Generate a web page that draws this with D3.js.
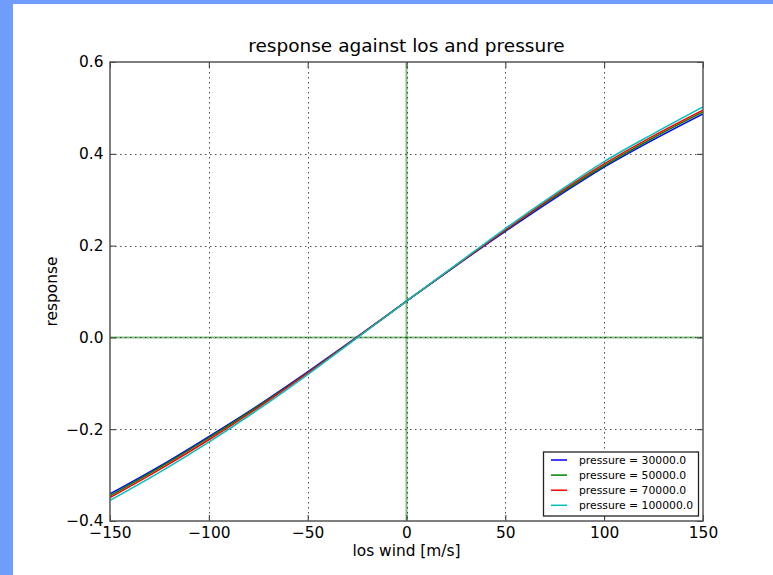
<!DOCTYPE html>
<html>
<head>
<meta charset="utf-8">
<script src="https://cdn.jsdelivr.net/npm/d3@7"></script>
<style>
  html, body { margin: 0; padding: 0; background: #fff; }
  svg { display: block; font-family: "DejaVu Sans", sans-serif; }
</style>
</head>
<body>
<svg id="chart" width="773" height="575"></svg>
<script>
// Line-of-sight wind samples (m/s)
const losWind = [-150, -125, -100, -75, -50, -25, 0, 25, 50, 75, 100, 125, 150];

// Pressure levels (Pa), one curve each
const pressures = [30000, 50000, 70000, 100000];
const seriesColors = ["#0000ff", "#008000", "#ff0000", "#00bfbf"];

// Response values per pressure level, sampled at losWind
const resp30000  = [-0.341, -0.281, -0.216, -0.148, -0.075, 0.001, 0.079, 0.156, 0.231, 0.303, 0.371, 0.431, 0.487];
const resp50000  = [-0.345, -0.284, -0.219, -0.150, -0.077, 0.000, 0.079, 0.157, 0.233, 0.306, 0.374, 0.435, 0.491];
const resp70000  = [-0.349, -0.288, -0.223, -0.153, -0.078, 0.000, 0.079, 0.157, 0.234, 0.309, 0.378, 0.439, 0.495];
const resp100000 = [-0.355, -0.294, -0.228, -0.157, -0.081, -0.001, 0.079, 0.158, 0.237, 0.312, 0.383, 0.444, 0.502];
const responses = [resp30000, resp50000, resp70000, resp100000];

// Axis ticks
const xTicks = [-150, -100, -50, 0, 50, 100, 150];
const yTicks = [-0.4, -0.2, 0.0, 0.2, 0.4, 0.6];

const titleText = "response against los and pressure";
const xLabelText = "los wind [m/s]";
const yLabelText = "response";

const W = 773, H = 575;
const plot = { left: 110, right: 703, top: 62, bottom: 521 };

const svg = d3.select("#chart");

// page background and the blue frame strips
svg.append("rect").attr("width", W).attr("height", H).attr("fill", "#ffffff");
svg.append("rect").attr("x", 0).attr("y", 0).attr("width", 13).attr("height", H).attr("fill", "#6f9cfd");
svg.append("rect").attr("x", 0).attr("y", 0).attr("width", W).attr("height", 4).attr("fill", "#6f9cfd");

const x = d3.scaleLinear().domain([-150, 150]).range([plot.left, plot.right]);
const y = d3.scaleLinear().domain([-0.4, 0.6]).range([plot.bottom, plot.top]);

svg.append("defs").append("clipPath").attr("id", "plotClip")
  .append("rect")
  .attr("x", plot.left).attr("y", plot.top)
  .attr("width", plot.right - plot.left).attr("height", plot.bottom - plot.top);

// zero reference lines
const zeroG = svg.append("g").attr("stroke", "#008000").attr("stroke-opacity", 0.5).attr("stroke-width", 2);
zeroG.append("line").attr("x1", x(0)).attr("x2", x(0)).attr("y1", plot.top).attr("y2", plot.bottom);
zeroG.append("line").attr("x1", plot.left).attr("x2", plot.right).attr("y1", y(0)).attr("y2", y(0));

// dotted grid
const grid = svg.append("g").attr("stroke", "#222").attr("stroke-width", 1)
  .attr("stroke-dasharray", "1.5,3.5").attr("opacity", 0.8);
grid.selectAll("line.v").data(xTicks.filter(t => t > -150 && t < 150)).join("line")
  .attr("class", "v")
  .attr("x1", d => Math.round(x(d)) + 0.5).attr("x2", d => Math.round(x(d)) + 0.5)
  .attr("y1", plot.top).attr("y2", plot.bottom);
grid.selectAll("line.h").data(yTicks.filter(t => t > -0.4 && t < 0.6)).join("line")
  .attr("class", "h")
  .attr("x1", plot.left).attr("x2", plot.right)
  .attr("y1", d => Math.round(y(d)) + 0.5).attr("y2", d => Math.round(y(d)) + 0.5);

// response curves
const line = d3.line()
  .x((d, i) => x(losWind[i]))
  .y(d => y(d))
  .curve(d3.curveMonotoneX);

svg.append("g").attr("clip-path", "url(#plotClip)")
  .selectAll("path").data(responses).join("path")
  .attr("d", d => line(d))
  .attr("fill", "none")
  .attr("stroke", (d, i) => seriesColors[i])
  .attr("stroke-width", 1.5);

// axes with inward ticks on all four sides
const fmtX = d3.format("d");
const fmtY = d3.format(".1f");
const tickLen = 6;

function styleAxis(g) {
  g.select(".domain").remove();
  g.selectAll(".tick line").attr("stroke", "#333").attr("stroke-width", 1);
  g.selectAll(".tick text").attr("fill", "#000")
    .style("font-family", "DejaVu Sans, sans-serif").style("font-size", "15.4px");
}

svg.append("g").attr("transform", `translate(0,${plot.bottom})`)
  .call(d3.axisBottom(x).tickValues(xTicks).tickFormat(fmtX).tickSize(-tickLen).tickPadding(6))
  .call(styleAxis);
svg.append("g").attr("transform", `translate(0,${plot.top})`)
  .call(d3.axisTop(x).tickValues(xTicks).tickFormat("").tickSize(-tickLen))
  .call(styleAxis);
svg.append("g").attr("transform", `translate(${plot.left},0)`)
  .call(d3.axisLeft(y).tickValues(yTicks).tickFormat(fmtY).tickSize(-tickLen).tickPadding(6.5))
  .call(styleAxis);
svg.append("g").attr("transform", `translate(${plot.right},0)`)
  .call(d3.axisRight(y).tickValues(yTicks).tickFormat("").tickSize(-tickLen))
  .call(styleAxis);

// frame
svg.append("rect")
  .attr("x", plot.left).attr("y", plot.top)
  .attr("width", plot.right - plot.left).attr("height", plot.bottom - plot.top)
  .attr("fill", "none").attr("stroke", "#555").attr("stroke-width", 1.5);

// title and axis labels
svg.append("text")
  .attr("x", (plot.left + plot.right) / 2).attr("y", 52)
  .attr("text-anchor", "middle").style("font-size", "18.5px").attr("fill", "#000")
  .text(titleText);
svg.append("text")
  .attr("x", (plot.left + plot.right) / 2).attr("y", 555.5)
  .attr("text-anchor", "middle").style("font-size", "15.4px").attr("fill", "#000")
  .text(xLabelText);
svg.append("text")
  .attr("transform", `translate(56.5,${(plot.top + plot.bottom) / 2}) rotate(-90)`)
  .attr("text-anchor", "middle").style("font-size", "15.4px").attr("fill", "#000")
  .text(yLabelText);

// legend
const legend = svg.append("g");
legend.append("rect")
  .attr("x", 543.5).attr("y", 452).attr("width", 155).attr("height", 64)
  .attr("fill", "#fff").attr("stroke", "#222").attr("stroke-width", 1.3);
const rows = legend.selectAll("g.row").data(pressures).join("g")
  .attr("class", "row")
  .attr("transform", (d, i) => `translate(0,${460 + i * 15.1})`);
rows.append("line")
  .attr("x1", 551).attr("x2", 567).attr("y1", 0).attr("y2", 0)
  .attr("stroke", (d, i) => seriesColors[i]).attr("stroke-width", 1.5);
rows.append("text")
  .attr("x", 579).attr("y", 3.9)
  .style("font-size", "10.8px").attr("fill", "#000")
  .text(d => `pressure = ${d.toFixed(1)}`);
</script>
</body>
</html>
